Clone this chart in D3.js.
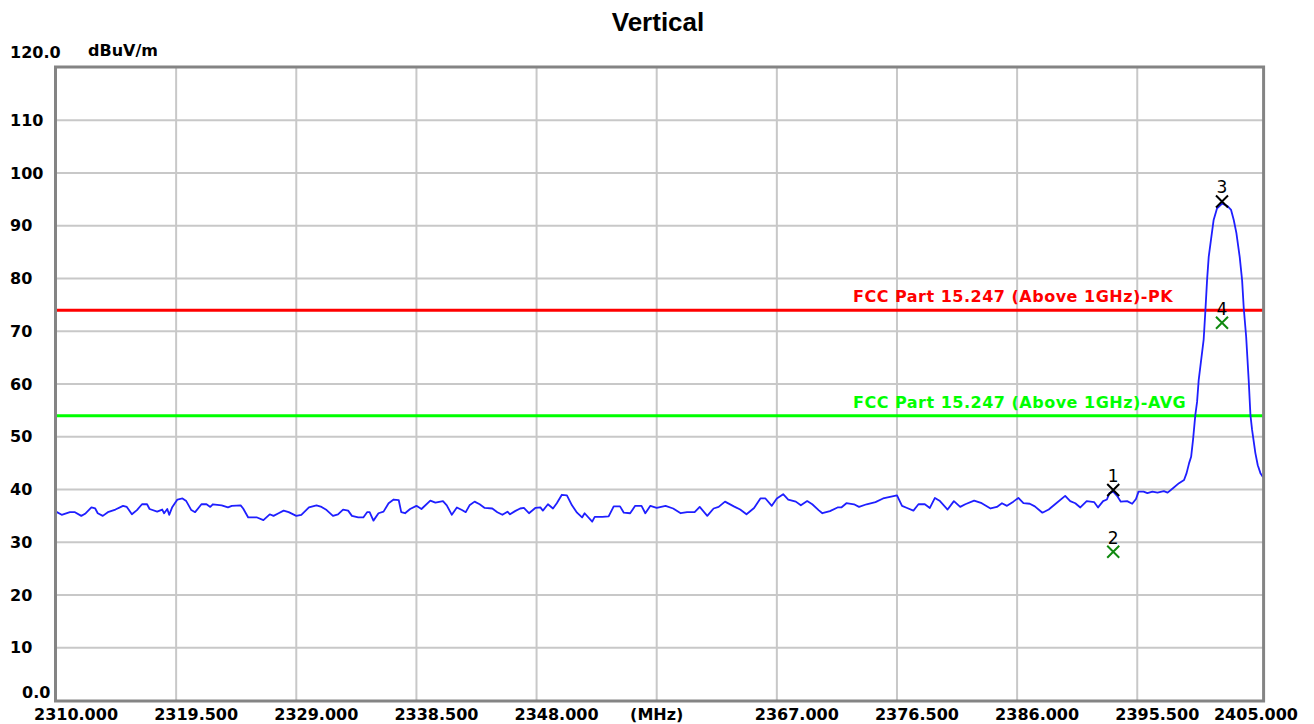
<!DOCTYPE html>
<html>
<head>
<meta charset="utf-8">
<script src="https://cdn.jsdelivr.net/npm/d3@7/dist/d3.min.js"></script>
<style>
  html, body { margin: 0; padding: 0; background: #ffffff; }
  svg { display: block; }
</style>
</head>
<body>
<svg id="chart" width="1314" height="724"></svg>
<script>
// Spectrum sweep, vertical polarisation, 2310–2405 MHz
const freqMHz = [
  2310.0, 2310.45, 2311.1, 2311.5, 2312.0, 2312.3, 2312.8, 2313.1, 2313.3, 2313.7,
  2314.1, 2314.7, 2315.3, 2315.6, 2316.0, 2316.4, 2316.8, 2317.2, 2317.4, 2318.0,
  2318.4, 2318.55, 2318.8, 2318.95, 2319.2, 2319.6, 2320.0, 2320.3, 2320.7, 2321.0,
  2321.5, 2321.9, 2322.2, 2322.4, 2323.1, 2323.6, 2323.9, 2324.6, 2324.8, 2325.2,
  2325.9, 2326.4, 2326.9, 2327.2, 2327.6, 2328.0, 2328.4, 2329.0, 2329.4, 2330.0,
  2330.6, 2331.0, 2331.4, 2331.9, 2332.3, 2332.7, 2333.1, 2333.4, 2333.9, 2334.3,
  2334.6, 2334.8, 2335.1, 2335.5, 2335.9, 2336.3, 2336.7, 2337.1, 2337.3, 2337.6,
  2338.0, 2338.5, 2338.9, 2339.6, 2340.0, 2340.4, 2340.6, 2340.9, 2341.3, 2341.7,
  2342.1, 2342.4, 2342.7, 2343.1, 2343.5, 2343.9, 2344.5, 2344.9, 2345.3, 2345.7,
  2345.9, 2346.3, 2346.7, 2347.0, 2347.4, 2347.9, 2348.3, 2348.5, 2348.9, 2349.3,
  2349.6, 2350.0, 2350.4, 2350.8, 2351.2, 2351.6, 2351.8, 2352.4, 2352.6, 2353.2,
  2353.7, 2354.1, 2354.6, 2354.9, 2355.4, 2355.8, 2356.3, 2356.6, 2357.0, 2357.5,
  2358.2, 2358.8, 2359.4, 2359.9, 2360.5, 2360.9, 2361.5, 2362.0, 2362.4, 2362.9,
  2363.6, 2364.1, 2364.6, 2365.2, 2365.7, 2366.1, 2366.6, 2367.0, 2367.5, 2367.9,
  2368.5, 2368.9, 2369.4, 2369.8, 2370.3, 2370.6, 2371.2, 2371.8, 2372.1, 2372.5,
  2373.1, 2373.5, 2374.1, 2374.8, 2375.4, 2376.5, 2376.9, 2377.3, 2377.8, 2378.2,
  2378.7, 2379.1, 2379.5, 2379.9, 2380.5, 2381.0, 2381.5, 2381.9, 2382.6, 2383.2,
  2383.9, 2384.4, 2384.8, 2385.2, 2385.7, 2386.1, 2386.5, 2387.0, 2387.4, 2388.0,
  2388.5, 2389.0, 2389.8, 2390.2, 2390.6, 2391.0, 2391.5, 2392.1, 2392.4, 2392.8,
  2393.1, 2393.3, 2393.6, 2393.9, 2394.2, 2394.7, 2395.1, 2395.4, 2395.6, 2396.0,
  2396.3, 2396.7, 2397.1, 2397.6, 2397.9, 2398.3, 2398.8, 2399.2, 2399.4, 2399.6,
  2399.76, 2399.91, 2400.09, 2400.23, 2400.36, 2400.75, 2400.89, 2401.02, 2401.15, 2401.36,
  2401.54, 2401.81, 2402.21, 2402.6, 2402.92, 2403.13, 2403.34, 2403.6, 2403.79, 2403.92,
  2404.11, 2404.31, 2404.45, 2404.58, 2404.84, 2405.03, 2405.24, 2405.45
];
const levelDbuv = [
  35.8, 35.2, 35.7, 35.7, 35.0, 35.4, 36.6, 36.4, 35.5, 35.0,
  35.7, 36.2, 36.9, 36.7, 35.3, 36.1, 37.2, 37.2, 36.3, 35.8,
  36.2, 35.5, 36.3, 35.2, 36.7, 38.1, 38.3, 37.8, 36.1, 35.7,
  37.2, 37.2, 36.7, 37.2, 37.0, 36.6, 36.9, 37.0, 36.4, 34.7,
  34.7, 34.2, 35.3, 35.0, 35.5, 36.0, 35.7, 35.0, 35.2, 36.6,
  37.0, 36.7, 36.1, 35.0, 35.3, 36.2, 36.0, 35.0, 34.7, 34.7,
  35.7, 35.7, 34.1, 35.5, 35.8, 37.4, 38.1, 38.0, 35.7, 35.5,
  36.3, 36.9, 36.3, 37.9, 37.5, 37.7, 37.8, 37.0, 35.2, 36.6,
  36.1, 35.7, 37.0, 37.7, 37.2, 36.5, 36.4, 35.7, 35.2, 35.8,
  35.3, 35.9, 36.4, 36.5, 35.5, 36.5, 36.6, 36.0, 37.2, 36.4,
  37.4, 39.0, 38.9, 37.0, 35.6, 34.7, 35.5, 33.9, 34.8, 34.8,
  34.9, 36.8, 36.8, 35.6, 35.5, 36.9, 36.9, 35.5, 36.9, 36.5,
  36.9, 36.4, 35.5, 35.7, 35.7, 36.7, 35.0, 36.4, 36.7, 37.7,
  36.8, 36.2, 35.3, 36.5, 38.3, 38.3, 36.9, 38.3, 39.1, 38.1,
  37.7, 37.0, 37.8, 37.2, 36.1, 35.5, 35.9, 36.6, 36.6, 37.4,
  37.2, 36.7, 37.2, 37.6, 38.3, 38.9, 36.9, 36.5, 36.0, 37.2,
  37.2, 36.5, 38.4, 37.8, 36.2, 37.8, 36.7, 37.2, 37.9, 37.4,
  36.4, 36.7, 37.4, 36.9, 37.7, 38.4, 37.4, 37.3, 36.8, 35.6,
  36.2, 37.2, 38.8, 37.8, 37.4, 36.6, 37.8, 37.6, 36.6, 37.8,
  38.1, 39.3, 39.6, 38.8, 37.7, 37.8, 37.3, 38.2, 39.6, 39.6,
  39.3, 39.6, 39.4, 39.7, 39.4, 40.2, 41.2, 41.8, 43.1, 45.0,
  46.2, 49.4, 54.1, 56.6, 60.8, 68.4, 74.0, 79.7, 84.1, 87.9,
  91.1, 93.3, 94.2, 93.8, 93.0, 91.1, 88.6, 84.1, 79.7, 74.4,
  69.0, 60.8, 54.1, 51.3, 46.9, 44.6, 43.1, 42.3
];

// Axis ticks
const xTicks = [2310.0, 2319.5, 2329.0, 2338.5, 2348.0, 2357.5, 2367.0, 2376.5, 2386.0, 2395.5, 2405.0];
const xTickLabels = ["2310.000", "2319.500", "2329.000", "2338.500", "2348.000", "(MHz)",
                     "2367.000", "2376.500", "2386.000", "2395.500", "2405.000"];
const yTicks = [0, 10, 20, 30, 40, 50, 60, 70, 80, 90, 100, 110, 120];
const yTickLabels = ["0.0", "10", "20", "30", "40", "50", "60", "70", "80", "90", "100", "110", "120.0"];

// Limit lines
const limitNames = ["FCC Part 15.247 (Above 1GHz)-PK", "FCC Part 15.247 (Above 1GHz)-AVG"];
const limitLevels = [74, 54];
const limitColors = ["#ff0000", "#00ff00"];

// Markers
const markerIds = ["1", "2", "3", "4"];
const markerFreqs = [2393.6, 2393.6, 2402.2, 2402.2];
const markerLevels = [39.9, 28.2, 94.6, 71.6];
const markerColors = ["#000000", "#108a10", "#000000", "#108a10"];

const svg = d3.select("#chart");
const W = 1314, H = 724;
const plotLeft = 56, plotTop = 67.5, plotBottom = 700.5;
const freqEnd = 2405.45; // sweep runs a little past the last labelled frequency

const x = d3.scaleLinear().domain([2310, 2405]).range([plotLeft, 1257.4]);
const y = d3.scaleLinear().domain([0, 120]).range([plotBottom, plotTop]);
const plotRight = x(freqEnd);

const labelFont = "'DejaVu Sans', sans-serif";

svg.append("rect").attr("width", W).attr("height", H).attr("fill", "#ffffff");

// Title
svg.append("text")
  .attr("x", 658).attr("y", 31)
  .attr("text-anchor", "middle")
  .attr("font-family", "'Liberation Sans', Arial, sans-serif")
  .attr("font-weight", "bold").attr("font-size", 26)
  .text("Vertical");

// Unit label
svg.append("text")
  .attr("x", 88).attr("y", 56)
  .attr("font-family", labelFont)
  .attr("font-weight", "bold").attr("font-size", 16)
  .text("dBuV/m");

// Grid
const grid = svg.append("g").attr("stroke", "#c8c8c8").attr("stroke-width", 2);
grid.selectAll("line.v").data(xTicks.slice(1, -1)).join("line")
  .attr("class", "v")
  .attr("x1", d => x(d)).attr("x2", d => x(d))
  .attr("y1", plotTop).attr("y2", plotBottom);
grid.selectAll("line.h").data(yTicks.slice(1, -1)).join("line")
  .attr("class", "h")
  .attr("x1", plotLeft).attr("x2", plotRight)
  .attr("y1", d => y(d)).attr("y2", d => y(d));

// Y tick labels
svg.append("g")
  .attr("font-family", labelFont).attr("font-weight", "bold").attr("font-size", 16)
  .selectAll("text").data(yTicks).join("text")
  .attr("x", d => d === 0 ? 22 : 10)
  .attr("y", d => d === 120 ? y(d) - 9.5 : d === 0 ? y(d) - 2.5 : y(d) + 5.5)
  .text((d, i) => yTickLabels[i]);

// X tick labels
svg.append("g")
  .attr("font-family", labelFont).attr("font-weight", "bold").attr("font-size", 16)
  .selectAll("text").data(xTicks).join("text")
  .attr("x", (d, i) => {
    if (i === xTicks.length - 1) return W - 16;
    if (xTickLabels[i] === "(MHz)") return x(d);
    return x(d) - 22;
  })
  .attr("text-anchor", (d, i) => i === xTicks.length - 1 ? "end" : xTickLabels[i] === "(MHz)" ? "middle" : "start")
  .attr("y", 719.5)
  .text((d, i) => xTickLabels[i]);

// Limit lines with their labels
const limits = limitLevels.map((v, i) => ({ v, name: limitNames[i], color: limitColors[i] }));
svg.append("g").selectAll("line").data(limits).join("line")
  .attr("x1", plotLeft).attr("x2", plotRight)
  .attr("y1", d => y(d.v)).attr("y2", d => y(d.v))
  .attr("stroke", d => d.color).attr("stroke-width", 3);
svg.append("g")
  .attr("font-family", labelFont).attr("font-weight", "bold").attr("font-size", 16)
  .attr("letter-spacing", 0.5)
  .selectAll("text").data(limits).join("text")
  .attr("x", 853).attr("y", d => y(d.v) - 8)
  .attr("fill", d => d.color)
  .text(d => d.name);

// Trace
const trace = freqMHz.map((f, i) => [f, levelDbuv[i]]);
svg.append("path")
  .datum(trace)
  .attr("fill", "none")
  .attr("stroke", "#1f1fff")
  .attr("stroke-width", 1.8)
  .attr("stroke-linejoin", "round")
  .attr("d", d3.line().x(d => x(d[0])).y(d => y(d[1])));

// Markers
const markers = markerIds.map((id, i) => ({ id, f: markerFreqs[i], v: markerLevels[i], color: markerColors[i] }));
const mg = svg.append("g").selectAll("g").data(markers).join("g")
  .attr("transform", d => `translate(${x(d.f)},${y(d.v)})`);
const s = 6;
mg.append("path")
  .attr("d", `M${-s},${-s}L${s},${s}M${-s},${s}L${s},${-s}`)
  .attr("stroke", d => d.color).attr("stroke-width", 2).attr("fill", "none");
mg.append("text")
  .attr("x", 0).attr("y", -8)
  .attr("text-anchor", "middle")
  .attr("font-family", labelFont).attr("font-size", 17)
  .attr("fill", "#000000")
  .text(d => d.id);

// Frame
svg.append("rect")
  .attr("x", plotLeft - 0.5).attr("y", plotTop - 0.5)
  .attr("width", plotRight - plotLeft + 1).attr("height", plotBottom - plotTop + 1)
  .attr("fill", "none").attr("stroke", "#848484").attr("stroke-width", 3);
</script>
</body>
</html>
